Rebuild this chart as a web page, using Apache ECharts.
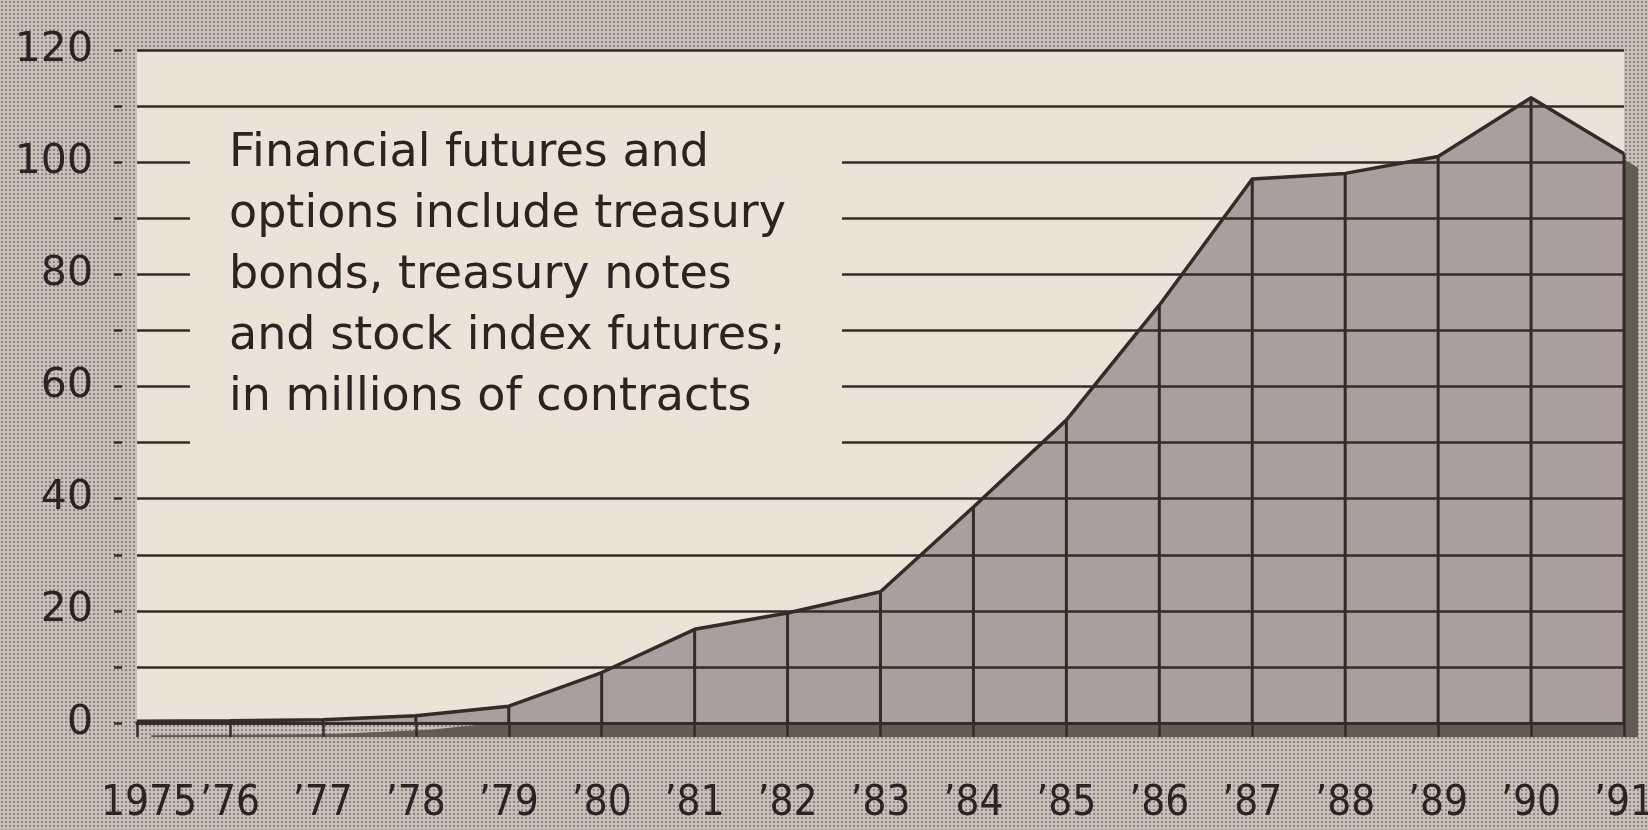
<!DOCTYPE html>
<html>
<head>
<meta charset="utf-8">
<script src="https://cdn.jsdelivr.net/npm/echarts@6/dist/echarts.min.js"></script>
<style>
  html, body { margin: 0; padding: 0; }
  body {
    width: 1648px; height: 830px; overflow: hidden;
    background-color: #c6c1b9;
    background-image: radial-gradient(circle, #8a857d 0.9px, rgba(0,0,0,0) 1.4px);
    background-size: 4px 4px;
  }
  #chart { width: 1648px; height: 830px; }
</style>
</head>
<body>
<div id="chart"></div>
<script>
// ---- data ----
const years = ['1975', '’76', '’77', '’78', '’79', '’80', '’81', '’82', '’83',
               '’84', '’85', '’86', '’87', '’88', '’89', '’90', '’91'];
const contracts = [0.3, 0.4, 0.6, 1.3, 3.0, 9.0, 16.7, 19.6, 23.4,
                   38.5, 54.0, 74.5, 97.0, 98.0, 101.0, 111.5, 101.5];
const yTickLabels = [0, 20, 40, 60, 80, 100, 120];
const noteLines = ['Financial futures and', 'options include treasury',
                   'bonds, treasury notes', 'and stock index futures;',
                   'in millions of contracts'];

// ---- styles ----
const INK = '#352b27';
const CREAM = '#ebe3d8';
const FILL = '#a89f9e';
const SHADOW = '#615d55';
const XFONT = "'DejaVu Sans Condensed', 'DejaVu Sans'";
const SH = 14; // drop-shadow offset in px

const chart = echarts.init(document.getElementById('chart'), null, { renderer: 'canvas' });
chart.setOption({
  animation: false,
  title: {
    text: noteLines.join('\n'),
    left: 190,
    top: 110,
    padding: [14, 56, 36, 39],
    backgroundColor: CREAM,
    textStyle: {
      fontFamily: 'DejaVu Sans',
      fontSize: 46,
      fontWeight: 'normal',
      lineHeight: 61,
      color: '#2c2421'
    }
  },
  grid: [
    {
      left: 137, right: 24, top: 50, bottom: 107,
      outerBoundsMode: 'none', containLabel: false,
      show: true, backgroundColor: CREAM, borderWidth: 0
    },
    {
      // same plot area shifted by the drop-shadow offset
      left: 137 + SH, right: 24 - SH, top: 50 + SH, bottom: 107 - SH,
      outerBoundsMode: 'none', containLabel: false, show: false
    }
  ],
  xAxis: [
    {
      type: 'category',
      data: years,
      boundaryGap: false,
      z: 3,
      axisLine: { show: true, lineStyle: { color: INK, width: 3 } },
      axisTick: { show: true, length: 14, interval: 0, lineStyle: { color: INK, width: 2.5 } },
      splitLine: { show: false },
      axisLabel: {
        interval: 0,
        margin: 60,
        fontFamily: XFONT,
        fontSize: 42,
        color: '#2c2421',
        formatter: function (v, i) { return i === 0 ? '{first|' + v + '}' : v; },
        rich: { first: { padding: [0, 0, 0, 24], fontFamily: XFONT, fontSize: 42, color: '#2c2421' } }
      }
    },
    { type: 'category', data: years, boundaryGap: false, gridIndex: 1, show: false }
  ],
  yAxis: [
    {
      type: 'value',
      min: 0, max: 120, interval: 10,
      offset: 15,
      z: 3,
      axisLine: { show: false },
      axisTick: { show: true, length: 8, lineStyle: { color: INK, width: 2.5 } },
      splitLine: { show: true, lineStyle: { color: INK, width: 2.5 } },
      axisLabel: {
        margin: 29,
        fontFamily: 'DejaVu Sans',
        fontSize: 41,
        color: '#2c2421',
        formatter: function (v) { return yTickLabels.indexOf(v) >= 0 ? String(v) : ''; }
      }
    },
    { type: 'value', min: 0, max: 120, interval: 10, gridIndex: 1, show: false, splitLine: { show: false } }
  ],
  series: [
    {
      // drop shadow of the area
      type: 'line',
      xAxisIndex: 1, yAxisIndex: 1,
      data: contracts,
      symbol: 'none',
      clip: false,
      z: 1,
      lineStyle: { width: 0, color: SHADOW },
      areaStyle: { color: SHADOW, opacity: 1 },
      silent: true
    },
    {
      type: 'line',
      data: contracts,
      symbol: 'none',
      clip: false,
      z: 2,
      lineStyle: { color: INK, width: 3.5 },
      areaStyle: { color: FILL, opacity: 1 }
    },
    {
      type: 'bar',
      data: contracts,
      barWidth: 3,
      z: 2,
      itemStyle: { color: INK }
    }
  ]
});
</script>
</body>
</html>
